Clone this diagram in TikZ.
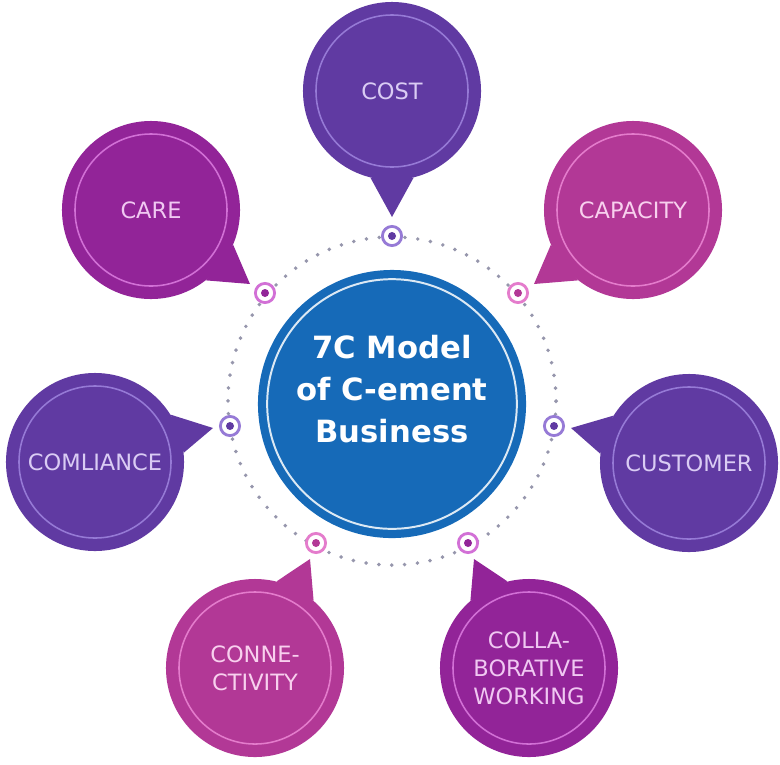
\documentclass[tikz,border=0pt]{standalone}
\usepackage{fontspec}
\setmainfont{DejaVu Sans}
\usepackage{xcolor}
\usepackage{tikz}
\usetikzlibrary{scopes}

\definecolor{plum}{RGB}{96,58,162}
\definecolor{orchid}{RGB}{178,56,150}
\definecolor{grape}{RGB}{146,36,152}
\definecolor{cement}{RGB}{22,106,184}
\definecolor{plumtext}{RGB}{218,204,244}
\definecolor{orchidtext}{RGB}{248,208,238}
\definecolor{grapetext}{RGB}{240,200,242}
\definecolor{plumring}{RGB}{150,122,214}
\definecolor{orchidring}{RGB}{228,124,204}
\definecolor{grapering}{RGB}{210,112,214}
\definecolor{dotgray}{RGB}{150,150,172}

\begin{document}
\begin{tikzpicture}[x=0.025cm,y=-0.025cm,
      bubble/.style={circle,fill=#1,text=#1text,minimum size=4.45cm,inner sep=0pt,
        align=center,font=\fontsize{16}{20}\selectfont,
        path picture={\draw[#1ring,line width=1.1pt]
          (path picture bounding box.center) circle (1.9cm);}},
      hub/.style={circle,fill=cement,minimum size=6.7cm,inner sep=0pt,
        path picture={\draw[white!85!cement,line width=1.4pt]
          (path picture bounding box.center) circle (3.12cm);}},
      hubtext/.style={align=center,text=white,font=\fontsize{21.8}{29.9}\selectfont\bfseries},
      dotring/.style={circle,draw=#1ring,line width=2pt,fill=white,minimum size=0.48cm,inner sep=0pt},
      ringdots/.style={dotgray,line width=2.8pt,line cap=round,dash pattern=on 0pt off 9.16pt}
]
      \useasboundingbox (0,0) rectangle (780,764);

      % dotted orbit and the hub
      \draw[ringdots] (392,401) circle (4.1cm);
      \node[hub] at (392,404) (hub) {};
      \node[hubtext] at (392,389) (title) {7C Model\\of C-ement\\Business};

      % the seven C's
      \node[bubble=plum] at (392,91) (cost) {COST};
      \node[bubble=orchid] at (633,210) (capacity) {CAPACITY};
      \node[bubble=plum] at (689,463) (customer) {CUSTOMER};
      \node[bubble=grape] at (529,668) (collab) {COLLA-\\BORATIVE\\WORKING};
      \node[bubble=orchid] at (255,668) (connect) {CONNE-\\CTIVITY};
      \node[bubble=plum] at (95,462) (compliance) {COMLIANCE};
      \node[bubble=grape] at (151,210) (care) {CARE};

      % tips of the speech tails
      \coordinate (costtip) at (392,217);
      \coordinate (capacitytip) at (534,284);
      \coordinate (customertip) at (571,428);
      \coordinate (collabtip) at (474,559);
      \coordinate (connecttip) at (310,559);
      \coordinate (compliancetip) at (213,428);
      \coordinate (caretip) at (250,284);

      {[fill=plum]
          \fill (cost.-104) -- (costtip) -- (cost.-76) -- cycle;
          \fill (customer.148) -- (customertip) -- (customer.174) -- cycle;
          \fill (compliance.32) -- (compliancetip) -- (compliance.6) -- cycle;
      }
      {[fill=orchid]
          \fill (capacity.203) -- (capacitytip) -- (capacity.232) -- cycle;
          \fill (connect.76) -- (connecttip) -- (connect.49) -- cycle;
      }
      {[fill=grape]
          \fill (collab.104) -- (collabtip) -- (collab.131) -- cycle;
          \fill (care.-23) -- (caretip) -- (care.-52) -- cycle;
      }

      % markers on the orbit
      \node[dotring=plum] at (392,236) (mcost) {};
      \node[dotring=orchid] at (518,293) (mcapacity) {};
      \node[dotring=plum] at (554,426) (mcustomer) {};
      \node[dotring=grape] at (468,543) (mcollab) {};
      \node[dotring=orchid] at (316,543) (mconnect) {};
      \node[dotring=plum] at (230,426) (mcompliance) {};
      \node[dotring=grape] at (265,293) (mcare) {};
      \fill[plum] (mcost) circle (0.1cm) (mcustomer) circle (0.1cm) (mcompliance) circle (0.1cm);
      \fill[orchid] (mcapacity) circle (0.1cm) (mconnect) circle (0.1cm);
      \fill[grape] (mcollab) circle (0.1cm) (mcare) circle (0.1cm);
\end{tikzpicture}
\end{document}
